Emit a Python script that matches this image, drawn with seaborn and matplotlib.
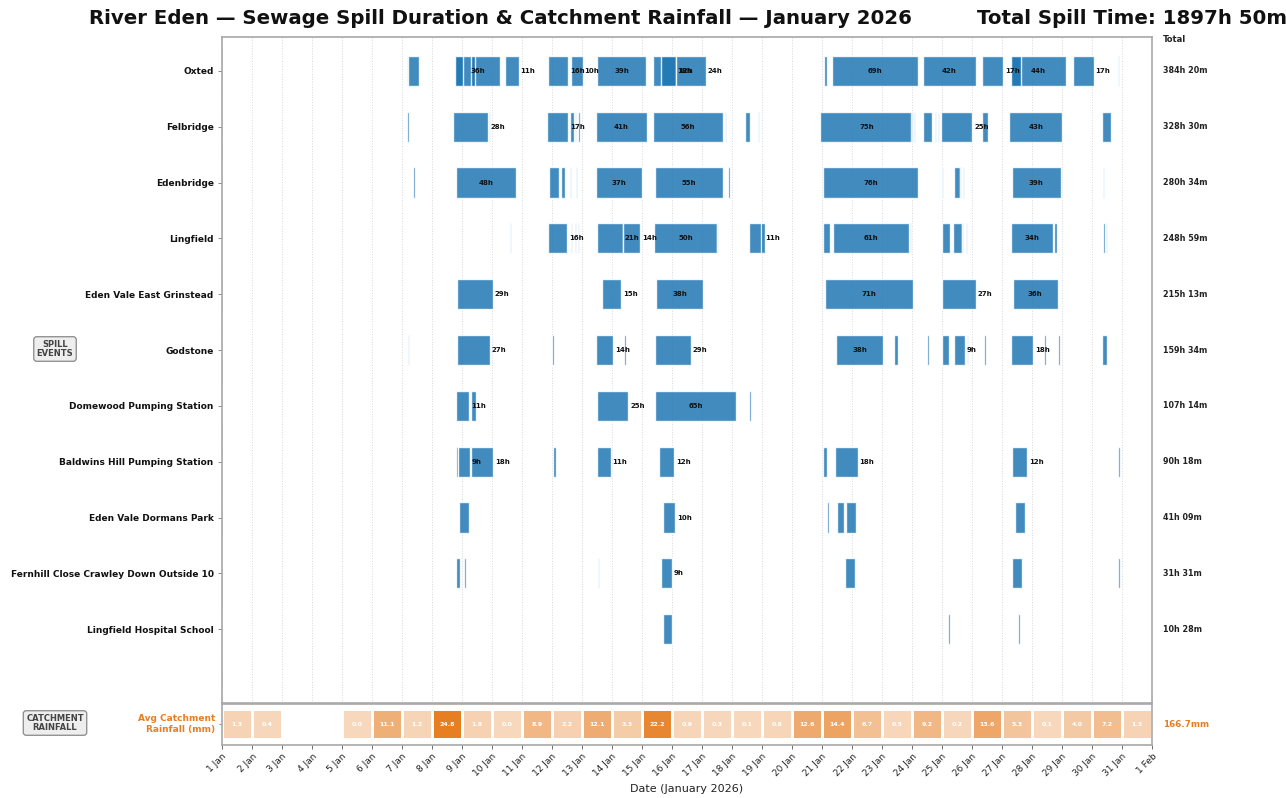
import numpy as np
import pandas as pd
import matplotlib
matplotlib.use("Agg")
import matplotlib.pyplot as plt
import matplotlib.transforms as mtrans
from matplotlib.colors import LinearSegmentedColormap
import seaborn as sns

# ---------------- data ----------------
sites = ["Oxted", "Felbridge", "Edenbridge", "Lingfield", "Eden Vale East Grinstead",
         "Godstone", "Domewood Pumping Station", "Baldwins Hill Pumping Station",
         "Eden Vale Dormans Park", "Fernhill Close Crawley Down Outside 10",
         "Lingfield Hospital School"]
site_totals = ["384h 20m", "328h 30m", "280h 34m", "248h 59m", "215h 13m", "159h 34m",
               "107h 14m", "90h 18m", "41h 09m", "31h 31m", "10h 28m"]
total_spill_label = "1897h 50m"

# events: (start hour counted from 1 Jan 00:00, duration in hours)
oxted = [(147.8, 1.0), (149.0, 8.2), (186.4, 35.8), (186.4, 6.6), (199.2, 3.2), (226.6, 10.8),
         (261.0, 16.0), (279.0, 9.6), (300.2, 38.7), (345.0, 18.0), (351.2, 12.0), (363.2, 24.0),
         (481.8, 2.4), (487.7, 68.8), (561.0, 41.9), (608.3, 16.8), (631.0, 44.0), (631.0, 8.3),
         (680.5, 16.7), (716.5, 1.2)]
felbridge = [(148.3, 1.6), (185.0, 28.0), (213.2, 1.5), (260.0, 17.0), (278.4, 3.2), (282.4, 1.0),
             (285.0, 1.0), (299.0, 40.8), (345.0, 55.6), (402.0, 0.8), (418.4, 4.0), (428.6, 1.0),
             (478.4, 74.7), (551.2, 1.0), (553.5, 1.0), (561.0, 7.2), (570.4, 1.0), (572.5, 1.0),
             (575.0, 25.3), (608.2, 4.8), (629.6, 42.7), (703.7, 7.7)]
edenbridge = [(153.0, 1.0), (187.2, 47.6), (261.3, 8.0), (271.5, 3.2), (278.4, 0.8), (283.0, 1.0),
              (299.2, 36.8), (346.4, 54.7), (405.0, 1.0), (481.0, 76.0), (563.0, 0.6), (575.7, 1.3),
              (585.6, 4.8), (590.4, 1.0), (592.5, 1.0), (631.7, 39.2), (705.0, 0.8)]
lingfield = [(230.4, 0.6), (260.5, 15.6), (279.0, 0.8), (282.0, 0.8), (285.0, 0.8), (299.8, 20.6),
             (321.0, 13.6), (345.9, 49.9), (396.0, 1.0), (421.8, 11.0), (431.2, 3.2), (480.6, 5.9),
             (489.0, 60.8), (550.0, 1.5), (575.7, 6.7), (584.5, 7.2), (592.0, 1.0), (595.0, 1.0),
             (631.0, 33.9), (665.6, 2.6), (705.0, 1.0), (707.0, 1.0)]
east_grinstead = [(188.3, 28.6), (304.3, 15.0), (347.2, 37.9), (482.4, 70.7), (575.7, 27.2),
                  (632.8, 35.6)]
godstone = [(148.6, 1.2), (187.7, 26.6), (264.0, 1.9), (299.0, 14.1), (321.4, 1.6), (346.4, 28.8),
            (491.0, 38.1), (537.4, 3.5), (564.0, 1.2), (575.7, 6.0), (585.3, 9.2), (595.7, 1.3),
            (609.9, 1.2), (631.2, 17.9), (657.6, 1.3), (668.8, 1.2), (704.3, 3.5)]
domewood = [(187.2, 10.6), (199.0, 4.3), (299.8, 25.3), (346.7, 64.6), (421.6, 1.3)]
baldwins = [(187.2, 1.4), (189.0, 9.0), (199.2, 17.6), (264.5, 2.4), (300.3, 10.7), (349.9, 12.0),
            (481.0, 3.2), (490.7, 17.9), (631.7, 12.3), (717.0, 1.6)]
dormans = [(189.9, 7.7), (352.5, 10.1), (484.3, 1.3), (491.7, 5.9), (499.0, 8.3), (634.7, 8.0)]
fernhill = [(187.2, 2.9), (193.9, 1.6), (300.6, 1.0), (351.0, 8.8), (498.7, 8.0), (631.7, 8.0),
            (717.0, 1.1)]
hospital_school = [(352.8, 6.8), (580.8, 1.6), (636.6, 1.6)]

site_events = [oxted, felbridge, edenbridge, lingfield, east_grinstead, godstone, domewood,
               baldwins, dormans, fernhill, hospital_school]

rain_mm = [1.3, 0.4, np.nan, np.nan, 0.0, 11.1, 1.2, 24.8, 1.8, 0.0, 8.9, 2.2, 12.1, 3.3, 22.2,
           0.9, 0.3, 0.1, 0.8, 12.6, 14.4, 6.7, 0.5, 9.2, 0.2, 13.6, 5.3, 0.1, 4.0, 7.2, 1.3]
rain_total_label = "166.7mm"
day_labels = [f"{d} Jan" for d in range(1, 32)]
date_ticks = day_labels + ["1 Feb"]

# ---------------- style ----------------
sns.set_theme(style="white")
plt.rcParams['font.family'] = ['DejaVu Sans']

BLUE = "#1f77b4"
ORANGE = "#e67e22"
SPINE = "#a8a8a8"

W, H = 1286, 798
fig = plt.figure(figsize=(W / 100, H / 100), dpi=100)
ax = fig.add_axes([222 / W, 1 - 703 / H, 930 / W, 666 / H])
axr = fig.add_axes([222 / W, 1 - 745 / H, 930 / W, 41 / H])

# ---------------- spill events ----------------
bar_h = 0.54
for i, evs in enumerate(site_events):
    ax.broken_barh([(s / 24, d / 24) for s, d in evs], (i - bar_h / 2, bar_h),
                   facecolors=BLUE, alpha=0.85, edgecolor="white", linewidth=1.0, zorder=3)
    for s, d in evs:
        if d >= 8.5:
            txt = f"{int(d + 0.5)}h"
            if d >= 30:
                ax.text((s + d / 2) / 24, i, txt, ha="center", va="center", fontsize=5,
                        fontweight="bold", color="#111111", zorder=5)
            else:
                ax.text((s + d) / 24 + 0.06, i, txt, ha="left", va="center", fontsize=5,
                        fontweight="bold", color="#111111", zorder=5)

ax.set_xlim(0, 31)
ax.set_ylim(10 + 74 / 56, -34 / 56)
ax.set_xticks(range(32))
ax.tick_params(axis="x", length=0, labelbottom=False)
ax.grid(axis="x", color="#d8d8d8", linestyle=":", linewidth=0.7, zorder=0)
ax.grid(axis="y", visible=False)
ax.set_yticks(range(len(sites)))
ax.set_yticklabels(sites, fontsize=6.5, fontweight="bold", color="#111111")
ax.tick_params(axis="y", length=3, width=0.6, color="#777777", pad=3, left=True)
for sp in ax.spines.values():
    sp.set_visible(True)
    sp.set_color(SPINE)
    sp.set_linewidth(1.2)

tr = mtrans.blended_transform_factory(ax.transAxes, ax.transData)
for i, t in enumerate(site_totals):
    ax.text(1.0118, i, t, transform=tr, ha="left", va="center", fontsize=5.8,
            fontweight="bold", color="#222222")
fig.text(1163 / W, 1 - 40 / H, "Total", ha="left", va="center", fontsize=6,
         fontweight="bold", color="#222222")

# ---------------- rainfall strip ----------------
rain_df = pd.DataFrame([rain_mm], columns=day_labels)
cmap = LinearSegmentedColormap.from_list("rain", ["#f7d8bd", ORANGE])
sns.heatmap(rain_df, ax=axr, cmap=cmap, vmin=0, vmax=np.nanmax(rain_mm), cbar=False,
            linewidths=0.8, linecolor="white", annot=True, fmt=".1f",
            annot_kws=dict(color="white", fontsize=4.5, fontweight="bold"))
axr.set_xlim(0, 31)
axr.set_ylim(1.2, -0.17)
axr.set_xticks(range(32))
axr.set_xticklabels(date_ticks, rotation=45, ha="right", rotation_mode="anchor",
                    fontsize=6.5, color="#222222")
axr.set_yticks([0.5])
axr.set_yticklabels(["Avg Catchment\nRainfall (mm)"], fontsize=6.5, fontweight="bold",
                    color=ORANGE, rotation=0, va="center")
axr.tick_params(axis="x", length=3, width=0.6, color="#555555", bottom=True, pad=2)
axr.tick_params(axis="y", length=2, width=0.6, color="#777777", left=True, pad=3)
for sp in axr.spines.values():
    sp.set_visible(True)
    sp.set_color(SPINE)
    sp.set_linewidth(1.2)
axr.set_xlabel("Date (January 2026)", fontsize=8, color="#222222", labelpad=4)
axr.set_ylabel("")
trr = mtrans.blended_transform_factory(axr.transAxes, axr.transData)
axr.text(1.0118, 0.5, rain_total_label, transform=trr, ha="left", va="center",
         fontsize=6.3, fontweight="bold", color=ORANGE)

# ---------------- side boxes & titles ----------------
box = dict(boxstyle="round,pad=0.35", fc="#eeeeee", ec="#888888", lw=0.9)
fig.text(55 / W, 1 - 349 / H, "SPILL\nEVENTS", ha="center", va="center", fontsize=6,
         fontweight="bold", color="#444444", bbox=box, linespacing=1.1)
fig.text(55 / W, 1 - 723 / H, "CATCHMENT\nRAINFALL", ha="center", va="center", fontsize=6,
         fontweight="bold", color="#444444", bbox=box, linespacing=1.1)

fig.text(500 / W, 1 - 18 / H,
         "River Eden \u2014 Sewage Spill Duration & Catchment Rainfall \u2014 January 2026",
         ha="center", va="center", fontsize=14.2, fontweight="bold", color="#111111")
fig.text(977 / W, 1 - 18 / H, f"Total Spill Time: {total_spill_label}", ha="left",
         va="center", fontsize=14.2, fontweight="bold", color="#111111")

fig.savefig("out.png", dpi=100)
